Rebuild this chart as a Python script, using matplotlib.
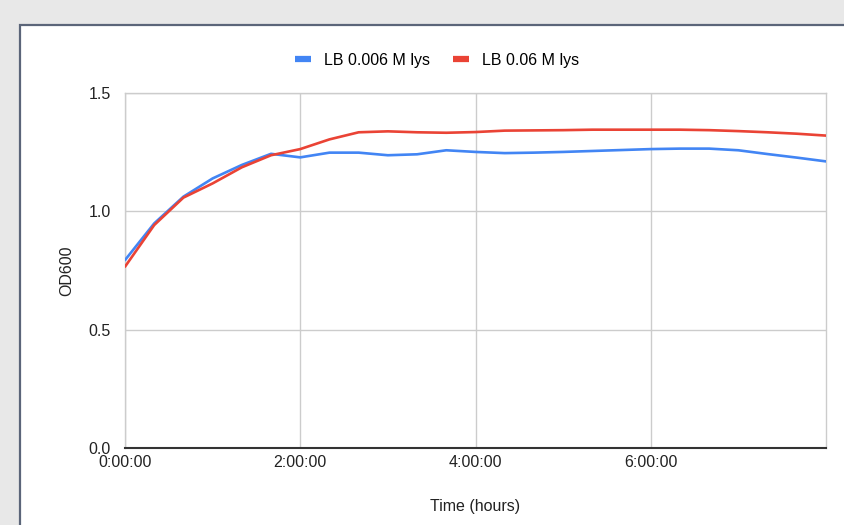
import matplotlib.pyplot as plt
from matplotlib.patches import Rectangle

plt.rcParams['font.family'] = ['Liberation Sans', 'DejaVu Sans']

# time in hours, one reading every 20 minutes
hours = [i / 3 for i in range(25)]
lys_0006 = [0.794, 0.949, 1.062, 1.139, 1.196, 1.243, 1.228, 1.248, 1.248,
            1.237, 1.241, 1.258, 1.251, 1.246, 1.248, 1.251, 1.255, 1.259,
            1.263, 1.265, 1.265, 1.258, 1.242, 1.227, 1.211]
lys_006 = [0.766, 0.942, 1.058, 1.118, 1.186, 1.237, 1.263, 1.304, 1.334,
           1.338, 1.334, 1.332, 1.335, 1.341, 1.342, 1.343, 1.345, 1.345,
           1.345, 1.345, 1.343, 1.339, 1.334, 1.328, 1.320]
xticks = [0, 2, 4, 6]
xtick_labels = ['0:00:00', '2:00:00', '4:00:00', '6:00:00']
yticks = [0.0, 0.5, 1.0, 1.5]

W, H = 844, 525
FS = 11.5
fig = plt.figure(figsize=(W / 100, H / 100), dpi=100)
fig.patch.set_facecolor('#e8e8e8')

# white card with a dark border, running off the right and bottom edges
card = Rectangle((20 / W, -0.1), 1.0, (H - 25) / H + 0.1,
                 transform=fig.transFigure, facecolor='white',
                 edgecolor='#5b6579', linewidth=1.6, zorder=-5)
fig.patches.append(card)

ax = fig.add_axes([125 / W, (H - 448) / H, (826 - 125) / W, (448 - 93) / H])
ax.set_zorder(2)
ax.set_facecolor('white')

ax.plot(hours, lys_0006, color='#4285f4', linewidth=1.9, label='LB 0.006 M lys',
        solid_capstyle='round', zorder=3)
ax.plot(hours, lys_006, color='#ea4335', linewidth=1.9, label='LB 0.06 M lys',
        solid_capstyle='round', zorder=4)

ax.set_xlim(0, 8)
ax.set_ylim(0, 1.5)
ax.set_xticks(xticks)
ax.set_xticklabels(xtick_labels)
ax.set_yticks(yticks)
ax.set_yticklabels([f'{v:.1f}' for v in yticks])
ax.grid(True, color='#cccccc', linewidth=1.0, zorder=0)
ax.tick_params(length=0, labelsize=FS, colors='#222222')
ax.tick_params(axis='y', pad=10)
ax.tick_params(axis='x', pad=5)

for side in ['left', 'right', 'top']:
    ax.spines[side].set_color('#cccccc')
    ax.spines[side].set_linewidth(1.0)
ax.spines['bottom'].set_color('#333333')
ax.spines['bottom'].set_linewidth(1.5)

ax.set_xlabel('Time (hours)', fontsize=FS, color='#222222')
ax.set_ylabel('OD600', fontsize=FS, color='#222222')
ax.xaxis.set_label_coords(0.5, (448 - 506) / 355, transform=ax.transAxes)
ax.yaxis.set_label_coords((67 - 125) / 701, 0.5, transform=ax.transAxes)
ax.xaxis.label.set_va('center')
ax.yaxis.label.set_va('center')

leg = fig.legend(loc='center', bbox_to_anchor=(437 / W, (H - 60) / H), ncol=2,
                 frameon=False, fontsize=FS, handlelength=1.05,
                 handletextpad=0.8, columnspacing=1.4, handleheight=0.5)
for line in leg.get_lines():
    line.set_linewidth(4.5)
    line.set_solid_capstyle('butt')

fig.savefig('out.png', dpi=100, facecolor=fig.get_facecolor())
